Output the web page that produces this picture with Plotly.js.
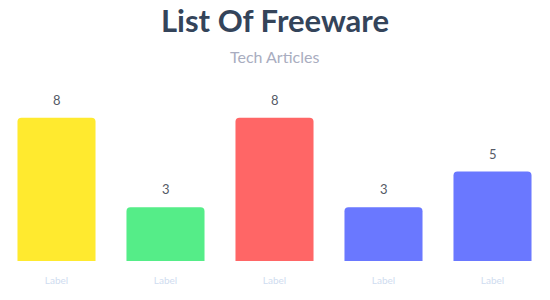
<!DOCTYPE html>
<html>
<head>
<meta charset="utf-8">
<script src="https://cdn.plot.ly/plotly-3.0.1.min.js"></script>
<style>html,body{margin:0;padding:0;background:#fff;}#chart{width:550px;height:300px;}</style>
</head>
<body>
<div id="chart"></div>
<script>
var positions = [0, 1, 2, 3, 4];
var tickLabels = ["Label", "Label", "Label", "Label", "Label"];
var values = [8, 3, 8, 3, 5];
var barColors = ["#ffea2f", "#55ed88", "#ff6666", "#6a78ff", "#6a78ff"];
var titleText = "List Of Freeware";
var subtitleText = "Tech Articles";

var trace = {
  type: "bar",
  x: positions,
  y: values,
  marker: {color: barColors, cornerradius: 4, line: {width: 0}},
  hoverinfo: "none"
};

var valueAnnotations = positions.map(function (p, i) {
  return {
    x: p, y: values[i], xref: "x", yref: "y",
    text: String(values[i]), showarrow: false,
    yanchor: "bottom", yshift: 8,
    font: {family: "Lato, 'Open Sans', sans-serif", size: 13, color: "#555a66"}
  };
});

valueAnnotations.push({
  x: 0.5, y: (261 - 56) / 179, xref: "paper", yref: "paper", yanchor: "middle",
  text: subtitleText, showarrow: false,
  font: {family: "Lato, 'Open Sans', sans-serif", size: 16, color: "#a9adc0"}
});

var layout = {
  width: 550, height: 300,
  margin: {l: 2, r: 3, t: 82, b: 39, pad: 0},
  paper_bgcolor: "#ffffff", plot_bgcolor: "#ffffff",
  showlegend: false,
  bargap: 0.284,
  title: {
    text: "<b>" + titleText + "</b>",
    x: 0.5, xanchor: "center", y: 1 - 21 / 300, yanchor: "middle",
    font: {family: "Lato, 'Open Sans', sans-serif", size: 31, color: "#34445a"}
  },
  xaxis: {
    range: [-0.5, 4.5],
    tickvals: positions, ticktext: tickLabels,
    showgrid: false, zeroline: false, showline: false, ticks: "",
    ticklabelstandoff: 12,
    tickfont: {family: "Lato, 'Open Sans', sans-serif", size: 10, color: "#cfdcf0"}
  },
  yaxis: {
    range: [0, 10],
    showgrid: false, zeroline: false, showline: false, showticklabels: false, ticks: ""
  },
  annotations: valueAnnotations
};

Plotly.newPlot("chart", [trace], layout, {displayModeBar: false, staticPlot: true});
</script>
</body>
</html>
